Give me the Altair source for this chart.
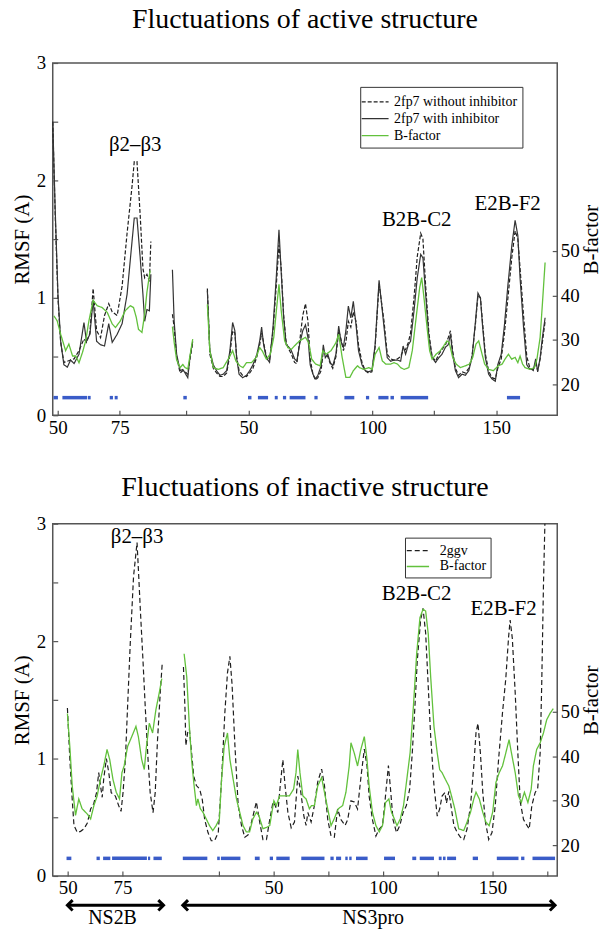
import altair as alt
import pandas as pd

FONT = "Liberation Serif"
GREEN = "#62c13c"
BLUE = "#3a5cc8"
BLACK = "#1e1e1e"

# ---------------- TOP PANEL (active structure, 2fp7) ----------------
# x = sequence position along the axis (NS2B residues, then NS3 residues + 77)
TOP_X1 = [48, 49, 50.1, 51.2, 52.5, 53.9, 55.2, 56.6, 58.6, 60.6,
          61.6, 63.0, 64.3, 65.7, 67.3, 68.9, 70.6, 72.0, 74.0, 76.0,
          78.0, 80.0, 80.9, 82.0, 83.3, 84.4, 85.1, 86.0, 87.0, 87.6]
TOP_WITH_1 = [2.50, 1.75, 1.03, 0.63, 0.43, 0.41, 0.47, 0.44, 0.52, 0.79,
              0.63, 0.69, 0.98, 0.63, 0.60, 0.59, 0.78, 0.62, 0.69, 0.78,
              1.03, 1.48, 1.68, 1.68, 1.34, 1.03, 0.80, 0.90, 0.89, 1.20]
TOP_WITHOUT_1 = [2.50, 1.70, 1.00, 0.62, 0.45, 0.46, 0.47, 0.48, 0.55, 0.65,
                 0.62, 0.70, 1.08, 0.72, 0.66, 0.85, 0.95, 0.88, 0.85, 1.10,
                 1.55, 1.95, 2.16, 2.16, 1.70, 1.25, 1.17, 1.20, 1.14, 1.48]

TOP_X2 = [96.3, 97, 98, 99.4, 100.5, 101.4, 102.5, 103.4, 104.5]
TOP_WITH_2 = [1.24, 0.80, 0.52, 0.38, 0.39, 0.36, 0.32, 0.50, 0.63]
TOP_WITHOUT_2 = [0.86, 0.75, 0.50, 0.36, 0.38, 0.37, 0.35, 0.48, 0.62]

TOP_X3 = [110.4, 111.4, 112.8, 114.1, 115.5, 116.8, 118.2, 119.5, 120.6, 121.5,
          122.2, 123.2, 124.6, 126.2, 127.5, 128.8, 130.4, 131.5, 132.3, 133.1,
          134.2, 135.5, 136.9, 138.2, 139.3, 140.2, 141.2, 142.2, 143.3, 144.3,
          145.6, 146.5, 147.6, 148.9, 150.0, 151.0, 151.9, 153.0, 154.0, 155.0,
          156.3, 157.2, 158.0, 159.0, 160.0, 161.0, 162.3, 163.4, 164.3, 165.3,
          166.3, 167.3, 168.3, 169.3, 170.4, 171.4, 172.8, 174.1, 175.4, 176.8,
          178.1, 179.7, 181.7, 183.0, 184.4, 185.7, 187.1, 188.4, 189.4, 190.4,
          191.5, 192.4, 193.8, 195.1, 196.5, 197.4, 198.5, 199.8, 201.1, 202.5,
          203.8, 205.1, 206.5, 207.6, 208.5, 209.4, 210.5, 211.8, 213.2, 214.5,
          215.9, 217.2, 218.6, 219.6, 220.6, 221.5, 222.6, 223.9, 225.2, 226.6,
          227.6, 229.0, 230.3, 231.7, 233.3, 234.6, 235.7, 236.6, 238.0, 239.3,
          240.6, 242.0, 242.9, 243.7, 244.7, 245.6, 246.7]
TOP_WITH_3 = [1.06, 0.55, 0.43, 0.38, 0.34, 0.35, 0.38, 0.55, 0.79, 0.72,
              0.49, 0.35, 0.32, 0.34, 0.38, 0.43, 0.52, 0.63, 0.75, 0.60,
              0.49, 0.45, 0.75, 1.17, 1.58, 1.22, 0.83, 0.60, 0.58, 0.55,
              0.48, 0.46, 0.60, 0.72, 0.77, 0.66, 0.43, 0.35, 0.31, 0.34,
              0.42, 0.60, 0.49, 0.52, 0.45, 0.42, 0.52, 0.76, 0.63, 0.58,
              0.72, 0.93, 0.83, 0.97, 0.77, 0.55, 0.43, 0.38, 0.37, 0.38,
              0.60, 1.15, 0.75, 0.49, 0.46, 0.47, 0.47, 0.46, 0.59, 0.52,
              0.60, 0.63, 0.89, 1.17, 1.37, 1.34, 1.03, 0.66, 0.49, 0.45,
              0.49, 0.52, 0.58, 0.60, 0.69, 0.52, 0.38, 0.32, 0.35, 0.34,
              0.38, 0.49, 0.80, 1.04, 1.00, 0.75, 0.49, 0.35, 0.31, 0.29,
              0.43, 0.52, 0.77, 1.11, 1.45, 1.66, 1.53, 1.17, 0.75, 0.43,
              0.39, 0.39, 0.48, 0.37, 0.49, 0.66, 0.83]
TOP_WITHOUT_3 = [1.08, 0.52, 0.40, 0.36, 0.33, 0.33, 0.36, 0.52, 0.72, 0.70,
                 0.50, 0.38, 0.34, 0.33, 0.36, 0.40, 0.50, 0.60, 0.70, 0.62,
                 0.50, 0.47, 0.72, 1.10, 1.45, 1.25, 0.85, 0.62, 0.56, 0.52,
                 0.45, 0.44, 0.62, 0.85, 0.95, 0.80, 0.48, 0.35, 0.30, 0.32,
                 0.38, 0.55, 0.52, 0.50, 0.44, 0.40, 0.50, 0.72, 0.65, 0.55,
                 0.62, 0.80, 0.75, 0.88, 0.80, 0.60, 0.45, 0.38, 0.36, 0.37,
                 0.58, 1.12, 0.80, 0.52, 0.48, 0.47, 0.48, 0.50, 0.55, 0.56,
                 0.62, 0.70, 1.00, 1.35, 1.55, 1.50, 1.10, 0.70, 0.50, 0.46,
                 0.52, 0.56, 0.60, 0.66, 0.72, 0.55, 0.40, 0.34, 0.37, 0.36,
                 0.40, 0.50, 0.78, 1.02, 1.00, 0.78, 0.52, 0.38, 0.32, 0.31,
                 0.40, 0.48, 0.70, 1.00, 1.35, 1.57, 1.50, 1.25, 0.85, 0.50,
                 0.40, 0.38, 0.45, 0.38, 0.48, 0.62, 0.80]

TOP_BF_X1 = [48.5, 49.8, 51.2, 53.2, 54.5, 56, 57.3, 58.6, 60, 61.3,
             62.6, 64.3, 65.9, 67.9, 70, 72, 73.3, 75.3, 77.3, 79.3,
             80.6, 81.7, 82.6, 84, 85.1, 86, 87.3]
TOP_BF_1 = [35.4, 34.3, 31.3, 27.6, 29.1, 26.4, 26.4, 24.9, 27.2, 29.8,
            34.3, 38.9, 37.7, 37.3, 36.2, 33.6, 32.8, 34.3, 36.6, 37.7,
            37.3, 35.1, 32.4, 31.7, 35.8, 40.7, 45.6]
TOP_BF_X2 = [96.3, 97, 98, 99.4, 100.5, 101.4, 102.5, 103.4, 104.5]
TOP_BF_2 = [33.0, 29.5, 25.5, 23.8, 24.5, 23.8, 23.5, 26.5, 30.2]
TOP_BF_X3 = [110.4, 111.4, 112.8, 114.8, 116.8, 118.8, 120.6, 121.9, 123.5, 124.8,
             126.2, 128.2, 130.1, 131.5, 132.5, 134.2, 135.8, 137.2, 138.5, 139.3,
             140.2, 141.6, 142.9, 144.3, 145.6, 147.6, 150, 151.3, 152.5, 154.1,
             155.9, 157, 158.3, 160.3, 162.3, 163.4, 164.8, 166.3, 167.9, 169.3,
             171, 171.8, 173.5, 175.6, 176.9, 178.1, 179.7, 181, 182.4, 184.4,
             185.7, 187.1, 188.4, 189.8, 191.7, 193.1, 194.5, 196.1, 196.9, 197.8,
             199.2, 200.1, 201.1, 202.7, 204.4, 205.8, 207.1, 208, 209.4, 210.8,
             212.5, 214.5, 216.2, 217.5, 218.8, 219.9, 220.9, 222.3, 223.9, 225.8,
             227.8, 229.4, 230.5, 231.9, 233.2, 234.6, 235.7, 236.6, 237.6, 238.6,
             240.6, 242.4, 243.4, 244.7, 245.6, 246.7]
TOP_BF_3 = [38.0, 27.6, 23.8, 23.4, 23.8, 25.7, 27.6, 25.3, 24.2, 23.8,
            24.9, 24.9, 26.1, 28.3, 27.6, 25.7, 26.8, 30.6, 38.0, 42.5,
            36.6, 29.8, 28.3, 27.9, 28.7, 29.8, 30.6, 29.4, 25.7, 24.6,
            24.2, 27.6, 26.8, 27.6, 29.4, 31.3, 26.1, 21.6, 21.6, 23.1,
            24.2, 23.8, 23.4, 23.8, 23.4, 26.8, 28.3, 25.3, 24.6, 24.6,
            24.9, 24.6, 23.8, 23.4, 23.8, 27.6, 34.3, 41.8, 44.0, 39.6,
            32.1, 27.6, 25.7, 26.8, 27.6, 28.7, 29.8, 29.4, 26.1, 24.6,
            23.8, 24.2, 24.6, 26.1, 29.1, 29.8, 27.6, 24.6, 23.4, 23.1,
            24.2, 24.6, 25.7, 26.8, 25.7, 26.1, 24.9, 26.4, 24.6, 23.8,
            23.4, 23.8, 25.7, 30.6, 38.0, 47.4]

TOP_MARK_START = [48.3, 51.9, 62.2, 71.0, 73.0, 100.7, 126.8, 130.8, 137.6, 140.9,
                  143.6, 153.6, 165.7, 174.4, 179.4, 184.3, 188.4, 231.3]
TOP_MARK_END = [50.1, 61.9, 63.3, 72.3, 74.2, 102.1, 128.2, 134.9, 138.8, 142.2,
                150.0, 154.9, 169.7, 175.7, 183.5, 185.7, 199.5, 236.6]

TOP_TICKS = [50, 75, 102, 127, 152, 177, 202, 227]
TOP_TICK_LABELS = ["50", "75", "", "50", "", "100", "", "150"]

TOP_ANN_X = [81.3, 194.9, 231.6]
TOP_ANN_Y = [2.30, 1.66, 1.80]
TOP_ANN_TEXT = ["\u03b22\u2013\u03b23", "B2B-C2", "E2B-F2"]

TOP_SERIES = ["2fp7 without inhibitor", "2fp7 with inhibitor", "B-factor"]

# ---------------- BOTTOM PANEL (inactive structure, 2ggv) ----------------
# x = sequence position along the axis (NS2B residues, then NS3 residues + 94)
BOT_X1 = [49.9, 51, 52.1, 52.9, 54.4, 55.9, 57.4, 59, 60.5, 62,
          63.2, 64.2, 65, 65.8, 66.5, 67.7, 68.8, 69.9, 71.8, 73.3,
          74.4, 75.3, 76.4, 77.4, 78.6, 80.1, 81.7, 82.4, 83.2, 84.4,
          85.5, 86.7, 87.7, 89, 90, 91, 92.3, 93.2]
BOT_RMSF_1 = [1.43, 1.00, 0.65, 0.43, 0.37, 0.38, 0.40, 0.45, 0.57, 0.62,
              0.71, 0.88, 0.77, 0.67, 0.83, 1.00, 0.88, 0.71, 0.68, 0.60,
              0.55, 0.71, 1.00, 1.45, 1.98, 2.55, 2.84, 2.58, 2.27, 1.84,
              1.42, 1.00, 0.71, 0.54, 0.71, 1.14, 1.56, 1.81]
BOT_X2 = [102.9, 103.6, 104.0, 104.8, 105.6, 106.6, 107.6, 108.8, 110.3, 111.5,
          112.6, 114.1, 115.6, 117.1, 118.8, 120.3, 121.8, 123.0, 124.1, 125.1,
          126.4, 127.9, 129.4, 130.9, 132.4, 134.0, 136.2, 137.7, 139.2, 140.8,
          142.3, 143.8, 144.8, 146.0, 147.1, 148.3, 149.3, 150.6, 152.1, 153.6,
          155.1, 156.3, 157.9, 158.9, 159.7, 161.2, 162.7, 164.2, 166.0, 167.3,
          168.8, 170.3, 171.8, 173.3, 174.8, 176.7, 177.9, 179.4, 180.9, 182.4,
          184.0, 185.5, 186.7, 187.7, 189.2, 190.8, 192.3, 193.8, 195.0, 196.5,
          197.6, 198.6, 200.2, 201.7, 203.2, 204.7, 206.2, 207.4, 208.6, 209.7,
          211.2, 212.3, 213.5, 214.7, 215.8, 217.3, 218.8, 219.9, 221.0, 222.3,
          223.0, 224.1, 225.3, 226.4, 227.9, 229.4, 230.9, 232.4, 234.0, 235.5,
          236.5, 237.4, 238.5, 239.6, 240.8, 242.3, 243.8, 245.3, 246.8, 248.6,
          250.1, 251.4, 252.1, 253.1, 254.4, 255.6, 256.7, 258.2, 259.8, 260.8,
          262.0, 263.5, 264.7, 265.8, 266.5, 267.3, 268.0, 268.8]
BOT_RMSF_2 = [1.78, 1.42, 1.11, 1.22, 1.25, 1.05, 0.85, 0.77, 0.74, 0.65,
              0.48, 0.37, 0.30, 0.30, 0.37, 0.82, 1.39, 1.73, 1.87, 1.63,
              1.11, 0.60, 0.43, 0.33, 0.35, 0.46, 0.63, 0.46, 0.31, 0.31,
              0.48, 0.63, 0.60, 0.54, 0.77, 0.99, 0.77, 0.54, 0.41, 0.46,
              0.85, 0.74, 0.51, 0.43, 0.54, 0.46, 0.60, 0.80, 0.91, 0.77,
              0.48, 0.34, 0.33, 0.57, 0.48, 0.43, 0.48, 0.64, 0.63, 0.57,
              0.85, 1.08, 0.94, 0.68, 0.48, 0.34, 0.40, 0.43, 0.65, 0.94,
              0.71, 0.48, 0.37, 0.43, 0.54, 0.60, 0.74, 1.05, 1.44, 1.84,
              2.18, 2.28, 2.07, 1.61, 1.19, 0.77, 0.51, 0.57, 0.68, 0.71,
              0.62, 0.72, 0.57, 0.43, 0.37, 0.33, 0.31, 0.40, 0.60, 0.94,
              1.22, 1.30, 1.05, 0.71, 0.46, 0.31, 0.37, 0.60, 0.99, 1.39,
              1.68, 2.04, 2.18, 2.02, 1.56, 1.05, 0.63, 0.48, 0.43, 0.40,
              0.60, 0.71, 0.75, 1.05, 1.62, 2.47, 3.03, 3.60]

BOT_BF_X1 = [49.9, 51, 52.1, 53.6, 55.1, 56.6, 59, 60.5, 62, 63.5,
             65, 66.5, 68, 69.2, 70.7, 72.2, 73.7, 74.8, 75.8, 77.4,
             79.3, 81.2, 82.3, 83.8, 85, 86, 87.3, 88.8, 90.3, 91.8, 93]
BOT_BF_1 = [49.6, 42.2, 33.3, 26.7, 30.4, 28.2, 27.0, 25.9, 28.9, 31.1,
            34.8, 37.8, 41.5, 39.3, 34.8, 31.9, 30.4, 36.3, 37.8, 42.2,
            44.4, 46.7, 44.4, 39.3, 37.0, 42.2, 47.4, 45.2, 50.4, 54.1, 57.4]
BOT_BF_X2 = [103.2, 104.4, 105.6, 106.6, 107.6, 108.8, 109.5, 110.6, 111.8, 113.3,
             114.8, 116.3, 117.8, 119.3, 120.3, 121.5, 123.0, 124.1, 125.6, 127.1,
             128.6, 130.1, 131.6, 133.1, 134.6, 136.2, 137.3, 139.2, 140.8, 142.3,
             143.3, 144.2, 145.3, 146.8, 149.0, 151.3, 153.2, 154.3, 155.1, 156.1,
             157.4, 158.9, 160.4, 161.4, 162.7, 164.2, 166.0, 167.6, 169.1, 170.3,
             171.8, 173.6, 175.6, 177.1, 178.6, 179.4, 180.9, 182.4, 183.9, 185.5,
             186.7, 187.7, 189.2, 190.8, 192.3, 193.8, 195.2, 196.7, 197.9, 198.9,
             200.4, 201.9, 203.4, 204.9, 206.4, 207.9, 209.4, 210.9, 212.3, 213.5,
             214.7, 215.8, 217.3, 218.8, 219.9, 221.0, 222.5, 224.1, 225.3, 226.8,
             228.6, 230.9, 232.4, 234.0, 235.5, 236.5, 238.0, 239.6, 241.0, 242.5,
             244.1, 245.6, 247.1, 248.6, 250.1, 251.6, 252.7, 254.4, 255.9, 257.2,
             258.6, 260.2, 261.7, 262.7, 264.2, 265.8, 267.3, 268.8, 270.3, 271.8]
BOT_BF_2 = [63.0, 57.8, 46.7, 39.3, 34.1, 28.9, 30.4, 28.2, 27.4, 25.9,
            24.4, 23.3, 24.4, 25.9, 34.8, 42.2, 45.2, 39.3, 34.8, 30.4,
            27.4, 24.4, 23.0, 23.0, 25.9, 27.4, 26.7, 23.7, 24.0, 24.4,
            27.4, 30.0, 28.9, 31.1, 31.1, 31.1, 32.6, 36.3, 41.5, 36.3,
            31.1, 30.4, 28.2, 28.9, 28.9, 33.3, 35.2, 31.1, 27.4, 24.4,
            26.0, 28.2, 28.9, 31.9, 37.8, 43.0, 40.7, 37.8, 41.5, 44.4,
            39.3, 33.3, 27.4, 24.4, 23.0, 24.4, 29.6, 30.4, 27.4, 26.3,
            24.4, 25.9, 28.9, 34.8, 40.7, 51.1, 63.0, 71.1, 73.0, 72.6,
            67.4, 57.8, 46.7, 40.7, 37.0, 36.3, 34.8, 33.3, 31.1, 28.2,
            23.7, 23.3, 25.2, 27.4, 30.4, 31.9, 30.4, 27.4, 25.2, 24.4,
            27.4, 34.1, 36.3, 37.8, 40.7, 43.7, 40.7, 36.3, 31.1, 29.6,
            31.9, 29.6, 32.6, 37.8, 41.5, 43.0, 45.2, 48.2, 49.6, 50.7]

BOT_MARK_START = [49.5, 63.2, 66.2, 70.3, 86.7, 89.2, 102.6, 118.3, 120.0, 135.5,
                  142.3, 145.3, 156.7, 170.0, 172.6, 176.8, 178.6, 181.7, 194.5, 207.4,
                  210.8, 219.5, 221.4, 223.3, 235.0, 246.0, 257.1, 262.3]
BOT_MARK_END = [51.7, 64.7, 69.5, 86.2, 87.7, 93.0, 113.8, 119.5, 128.9, 137.7,
                143.8, 151.4, 167.3, 171.5, 174.9, 177.9, 179.7, 187.0, 199.5, 209.2,
                217.3, 220.8, 222.6, 227.4, 237.4, 255.9, 258.6, 272.6]

BOT_TICKS = [50, 75, 119, 144, 169, 194, 219, 244, 269]
BOT_TICK_LABELS = ["50", "75", "", "50", "", "100", "", "150", ""]

BOT_ANN_X = [81.7, 209.4, 249.1]
BOT_ANN_Y = [2.89, 2.40, 2.27]
BOT_ANN_TEXT = ["\u03b22\u2013\u03b23", "B2B-C2", "E2B-F2"]

DOMAIN_NAMES = ["NS2B", "NS3pro"]
DOMAIN_START = [49.9, 102.6]
DOMAIN_END = [93.8, 272.6]
DOMAIN_LABEL_X = [70.5, 189.5]

BOT_SERIES = ["2ggv", "B-factor"]

RMSF_DOMAIN = [0, 3]
BF_DOMAIN = [13.1, 92.2]


def label_expr(ticks, labels):
    parts = [f"datum.value == {t} ? '{l}'" for t, l in zip(ticks, labels)]
    return " : ".join(parts) + " : ''"


def line_rows(xs, ys, series, seg):
    return [{"idx": a, "val": b, "series": series, "seg": seg} for a, b in zip(xs, ys)]


YTITLE = "RMSF (A)"


def panel(rmsf_rows, bf_rows, marks_start, marks_end, ann, x_domain, ticks, tick_labels,
          series, color_range, dash_range, title, title_offset, legend, clip_lines=False,
          extra=None):
    xscale = alt.Scale(domain=x_domain, nice=False, zero=False)
    xenc = alt.X("idx:Q", scale=xscale, title=None,
                 axis=alt.Axis(values=ticks, labelExpr=label_expr(ticks, tick_labels),
                               offset=-5, tickSize=5, labelPadding=3, labelFlush=False))
    yscale = alt.Scale(domain=RMSF_DOMAIN, nice=False)
    color = alt.Color("series:N", scale=alt.Scale(domain=series, range=color_range),
                      title=None, legend=legend)
    dash = alt.StrokeDash("series:N", scale=alt.Scale(domain=series, range=dash_range),
                          title=None, legend=legend)

    rmsf = alt.Chart(pd.DataFrame(rmsf_rows)).mark_line(strokeWidth=1.2, clip=clip_lines).encode(
        x=xenc,
        y=alt.Y("val:Q", scale=yscale, title=YTITLE,
                axis=alt.Axis(values=[0, 0.5, 1, 1.5, 2, 2.5, 3],
                              labelExpr="datum.value % 1 == 0 ? format(datum.value, 'd') : ''",
                              offset=-5, tickSize=5, labelPadding=7, titlePadding=4)),
        color=color, strokeDash=dash, detail="seg:N",
    )
    mk = pd.DataFrame({"start": marks_start, "end": marks_end, "yv": [0.15] * len(marks_start)})
    marks = alt.Chart(mk).mark_rule(color=BLUE, strokeWidth=3.5, strokeCap="butt").encode(
        x=alt.X("start:Q", scale=xscale, title=None),
        x2="end:Q",
        y=alt.Y("yv:Q", scale=yscale, title=YTITLE),
    )
    adf = pd.DataFrame({"idx": ann[0], "val": ann[1], "txt": ann[2]})
    texts = alt.Chart(adf).mark_text(font=FONT, fontSize=21, color="black").encode(
        x=alt.X("idx:Q", scale=xscale, title=None),
        y=alt.Y("val:Q", scale=yscale, title=YTITLE),
        text="txt:N",
    )
    layers = [rmsf, marks, texts]
    if extra is not None:
        layers += extra(xscale, yscale)
    inner = alt.layer(*layers)

    bf = alt.Chart(pd.DataFrame(bf_rows)).mark_line(strokeWidth=1.3).encode(
        x=alt.X("idx:Q", scale=xscale, title=None),
        y=alt.Y("val:Q", scale=alt.Scale(domain=BF_DOMAIN, nice=False), title="B-factor",
                axis=alt.Axis(orient="right", values=[20, 30, 40, 50], offset=-5, tickSize=5,
                              labelPadding=3, titleAngle=270, titleBaseline="top",
                              titlePadding=1)),
        color=color, strokeDash=dash, detail="seg:N",
    )
    return alt.layer(inner, bf).resolve_scale(y="independent").properties(
        width=507, height=354,
        title=alt.TitleParams(title, font=FONT, fontSize=28, fontWeight="normal",
                              anchor="middle", offset=title_offset, color="black"),
    )


def domain_arrows(xscale, yscale):
    df = pd.DataFrame({"start": DOMAIN_START, "end": DOMAIN_END, "name": DOMAIN_NAMES,
                       "lx": DOMAIN_LABEL_X, "ay": [-0.25] * 2, "ly": [-0.355] * 2})
    line = alt.Chart(df).mark_rule(color="black", strokeWidth=3).encode(
        x=alt.X("start:Q", scale=xscale, title=None), x2="end:Q",
        y=alt.Y("ay:Q", scale=yscale, title=YTITLE))
    left = alt.Chart(df).mark_point(shape="M1,-1L0,0L1,1", filled=False, color="black",
                                    strokeWidth=3, size=110, opacity=1).encode(
        x=alt.X("start:Q", scale=xscale, title=None), y=alt.Y("ay:Q", scale=yscale, title=YTITLE))
    right = alt.Chart(df).mark_point(shape="M-1,-1L0,0L-1,1", filled=False, color="black",
                                     strokeWidth=3, size=110, opacity=1).encode(
        x=alt.X("end:Q", scale=xscale, title=None), y=alt.Y("ay:Q", scale=yscale, title=YTITLE))
    lab = alt.Chart(df).mark_text(font=FONT, fontSize=20, color="black").encode(
        x=alt.X("lx:Q", scale=xscale, title=None), y=alt.Y("ly:Q", scale=yscale, title=YTITLE),
        text="name:N")
    return [line, left, right, lab]


top_rmsf = (line_rows(TOP_X1, TOP_WITHOUT_1, TOP_SERIES[0], 1)
            + line_rows(TOP_X2, TOP_WITHOUT_2, TOP_SERIES[0], 2)
            + line_rows(TOP_X3, TOP_WITHOUT_3, TOP_SERIES[0], 3)
            + line_rows(TOP_X1, TOP_WITH_1, TOP_SERIES[1], 1)
            + line_rows(TOP_X2, TOP_WITH_2, TOP_SERIES[1], 2)
            + line_rows(TOP_X3, TOP_WITH_3, TOP_SERIES[1], 3))
top_bf = (line_rows(TOP_BF_X1, TOP_BF_1, TOP_SERIES[2], 1)
          + line_rows(TOP_BF_X2, TOP_BF_2, TOP_SERIES[2], 2)
          + line_rows(TOP_BF_X3, TOP_BF_3, TOP_SERIES[2], 3))

bot_rmsf = (line_rows(BOT_X1, BOT_RMSF_1, BOT_SERIES[0], 1)
            + line_rows(BOT_X2, BOT_RMSF_2, BOT_SERIES[0], 2))
bot_bf = (line_rows(BOT_BF_X1, BOT_BF_1, BOT_SERIES[1], 1)
          + line_rows(BOT_BF_X2, BOT_BF_2, BOT_SERIES[1], 2))

top_legend = alt.Legend(orient="none", legendX=309, legendY=24, strokeColor="#333",
                        padding=5, symbolType="M-1.5,0H1.5", symbolSize=324,
                        symbolStrokeWidth=1.3, labelFont=FONT, labelFontSize=14,
                        labelOffset=9, rowPadding=0, fillColor="white")
bot_legend = alt.Legend(orient="none", legendX=354, legendY=14, strokeColor="#333",
                        padding=4, symbolType="M-1.4,0H1.4", symbolSize=256,
                        symbolStrokeWidth=1.3, labelFont=FONT, labelFontSize=14,
                        labelOffset=13, rowPadding=0, fillColor="white")

top = panel(top_rmsf, top_bf, TOP_MARK_START, TOP_MARK_END,
            (TOP_ANN_X, TOP_ANN_Y, TOP_ANN_TEXT), [48, 251.6], TOP_TICKS, TOP_TICK_LABELS,
            TOP_SERIES, [BLACK, "#333333", GREEN], [[4, 2], [1, 0], [1, 0]],
            "Fluctuations of active structure", 20, top_legend)
bottom = panel(bot_rmsf, bot_bf, BOT_MARK_START, BOT_MARK_END,
               (BOT_ANN_X, BOT_ANN_Y, BOT_ANN_TEXT), [43.2, 273.6], BOT_TICKS, BOT_TICK_LABELS,
               BOT_SERIES, [BLACK, GREEN], [[5, 3], [1, 0]],
               "Fluctuations of inactive structure", 13, bot_legend, clip_lines=True,
               extra=domain_arrows)

chart = alt.vconcat(top, bottom, spacing=35).resolve_scale(
    color="independent", strokeDash="independent"
).properties(
    padding={"left": 10, "right": 4, "top": 3, "bottom": 0}
).configure_view(
    stroke="#555555", strokeWidth=1.5
).configure_axis(
    labelFont=FONT, titleFont=FONT, labelFontSize=19, titleFontSize=21,
    labelColor="black", titleColor="black", tickColor="#555555", tickWidth=1.2,
    grid=False, domain=False, titleFontWeight="normal"
).configure_legend(
    labelFont=FONT, labelColor="black"
)

chart.save("out.html", embed_options={"renderer": "svg", "actions": False})
